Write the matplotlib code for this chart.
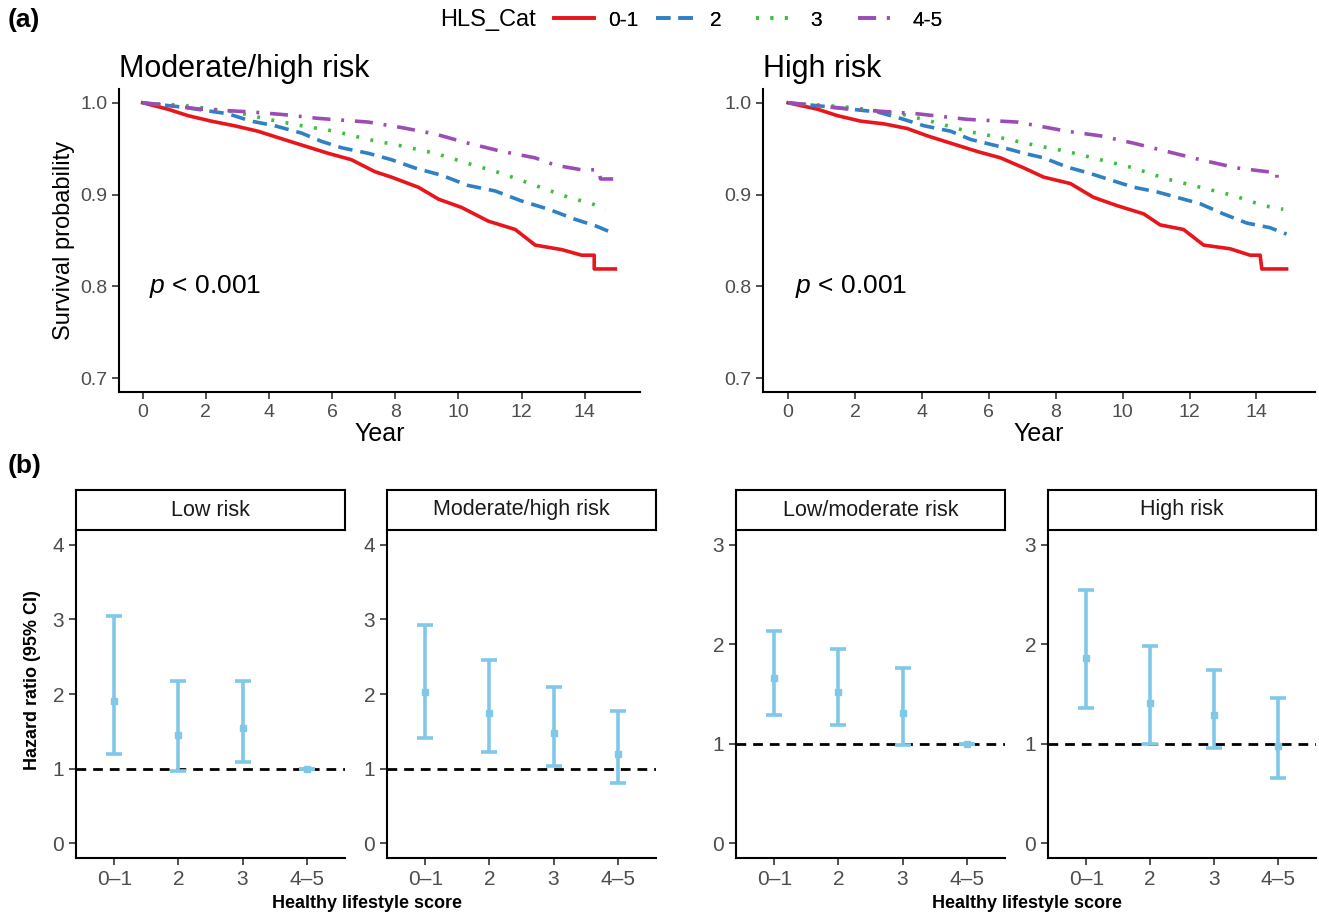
import numpy as np
import matplotlib
matplotlib.use("Agg")
import matplotlib.pyplot as plt
from matplotlib.lines import Line2D

plt.rcParams['font.family'] = ['Liberation Sans', 'DejaVu Sans']
plt.rcParams['mathtext.fontset'] = 'custom'
plt.rcParams['mathtext.rm'] = 'Liberation Sans'
plt.rcParams['mathtext.it'] = 'Liberation Sans:italic'

# ---- survival curves ----
groups = ['0-1', '2', '3', '4-5']
colors = ['#E8161C', '#2F80C4', '#3CBF3C', '#9B4DB5']
styles = ['-', (0, (4, 2.2)), (0, (0.8, 3.2)), (0, (5, 3, 0.8, 3))]

# Moderate/high risk
mh_t = {
    '0-1': [0, 0.8, 1.43, 2.17, 2.9, 3.65, 4.29, 5.03, 5.87, 6.61, 7.35, 7.88, 8.73, 9.37,
            10.1, 10.95, 11.8, 12.43, 13.28, 13.9, 14.3, 14.3, 14.97],
    '2': [0, 1.32, 2.7, 3.44, 4.18, 5.03, 5.66, 6.3, 7.14, 7.88, 8.62, 9.47, 10.3, 11.16,
          12.0, 12.86, 13.7, 14.34, 14.97],
    '3': [0, 1.32, 2.91, 3.97, 5.03, 6.08, 7.14, 8.2, 9.26, 10.3, 11.38, 12.43, 13.49,
          14.23, 14.66],
    '4-5': [0, 1.85, 3.44, 4.5, 5.56, 7.14, 8.2, 9.26, 10.3, 11.38, 12.43, 13.07, 13.9,
            14.44, 14.5, 14.9],
}
mh_s = {
    '0-1': [1.0, 0.993, 0.986, 0.980, 0.975, 0.969, 0.962, 0.954, 0.945, 0.938, 0.925, 0.919,
            0.908, 0.895, 0.886, 0.871, 0.862, 0.845, 0.840, 0.834, 0.834, 0.819, 0.819],
    '2': [1.0, 0.995, 0.988, 0.980, 0.975, 0.967, 0.958, 0.951, 0.945, 0.938, 0.929, 0.921,
          0.910, 0.904, 0.893, 0.884, 0.873, 0.866, 0.857],
    '3': [1.0, 0.997, 0.990, 0.982, 0.975, 0.969, 0.960, 0.953, 0.945, 0.934, 0.923, 0.910,
          0.897, 0.890, 0.884],
    '4-5': [1.0, 0.993, 0.990, 0.987, 0.983, 0.979, 0.973, 0.966, 0.956, 0.947, 0.940, 0.932,
            0.927, 0.927, 0.917, 0.917],
}

# High risk
hr_t = {
    '0-1': [0, 0.88, 1.47, 2.17, 2.87, 3.56, 4.16, 4.86, 5.65, 6.35, 7.05, 7.64, 8.44, 9.13,
            9.83, 10.63, 11.12, 11.82, 12.42, 13.21, 13.81, 14.11, 14.16, 14.9],
    '2': [0, 1.37, 2.67, 3.36, 4.06, 4.86, 5.46, 6.25, 7.05, 7.64, 8.34, 9.03, 9.63, 10.33,
          11.02, 11.62, 12.32, 13.01, 13.71, 14.4, 14.9],
    '3': [0, 1.87, 3.36, 4.36, 5.35, 6.35, 7.34, 8.34, 9.33, 10.33, 11.32, 12.32, 13.31,
          14.21, 14.8],
    '4-5': [0, 1.87, 3.86, 5.35, 6.85, 8.34, 9.33, 10.33, 11.32, 12.32, 13.41, 14.31, 14.6,
            14.62, 14.9],
}
hr_s = {
    '0-1': [1.0, 0.993, 0.986, 0.980, 0.977, 0.972, 0.964, 0.956, 0.947, 0.940, 0.929, 0.919,
            0.912, 0.897, 0.888, 0.879, 0.867, 0.862, 0.845, 0.841, 0.834, 0.834, 0.819, 0.819],
    '2': [1.0, 0.995, 0.990, 0.983, 0.975, 0.969, 0.960, 0.953, 0.945, 0.940, 0.930, 0.923,
          0.916, 0.908, 0.903, 0.897, 0.890, 0.879, 0.869, 0.864, 0.857],
    '3': [1.0, 0.995, 0.988, 0.979, 0.969, 0.962, 0.954, 0.947, 0.938, 0.929, 0.917, 0.908,
          0.899, 0.888, 0.884],
    '4-5': [1.0, 0.993, 0.988, 0.982, 0.979, 0.969, 0.964, 0.956, 0.947, 0.938, 0.929, 0.925,
            0.925, 0.917, 0.917],
}

# ---- hazard ratios ----
hls = ['0–1', '2', '3', '4–5']
low_hr = [1.91, 1.45, 1.54, 1.0]
low_lo = [1.20, 0.97, 1.09, 1.0]
low_hi = [3.05, 2.18, 2.17, 1.0]
modhigh_hr = [2.03, 1.74, 1.48, 1.20]
modhigh_lo = [1.41, 1.22, 1.04, 0.80]
modhigh_hi = [2.92, 2.45, 2.10, 1.77]
lowmod_hr = [1.66, 1.52, 1.31, 1.0]
lowmod_lo = [1.29, 1.19, 0.99, 1.0]
lowmod_hi = [2.13, 1.95, 1.76, 1.0]
high_hr = [1.86, 1.41, 1.29, 0.98]
high_lo = [1.36, 1.00, 0.96, 0.65]
high_hi = [2.55, 1.98, 1.74, 1.46]

W, H = 1319, 915
fig = plt.figure(figsize=(W / 100, H / 100), dpi=100)


def box(x0, y0, x1, y1):
    # pixel box (top-left origin) -> figure fraction rect
    return [x0 / W, 1 - y1 / H, (x1 - x0) / W, (y1 - y0) / H]


grey = '#4D4D4D'


def style_axes(ax, fs):
    for s in ['top', 'right']:
        ax.spines[s].set_visible(False)
    for s in ['left', 'bottom']:
        ax.spines[s].set_linewidth(1.5)
        ax.spines[s].set_color('black')
    ax.tick_params(length=5, width=1.2, color='#333333', labelcolor=grey, labelsize=fs)


def km_panel(rect, title, t_dict, s_dict, ylabel):
    ax = fig.add_axes(rect)
    for g, c, ls in zip(groups, colors, styles):
        ax.plot(t_dict[g], s_dict[g], color=c, linestyle=ls, lw=2.6)
    ax.set_xlim(-0.75, 15.75)
    ax.set_ylim(0.685, 1.015)
    ax.set_xticks(range(0, 15, 2))
    ax.set_yticks([0.7, 0.8, 0.9, 1.0])
    ax.set_yticklabels(['0.7', '0.8', '0.9', '1.0'])
    style_axes(ax, 14)
    ax.set_xlabel('Year', fontsize=18, labelpad=1)
    if ylabel:
        ax.set_ylabel('Survival probability', fontsize=17, labelpad=4)
    ax.set_title(title, loc='left', fontsize=22, pad=9)
    ax.text(0.2, 0.8, r'$p$ < 0.001', fontsize=19, va='center')
    return ax


km_panel(box(119, 89, 640, 392), 'Moderate/high risk', mh_t, mh_s, True)
km_panel(box(763, 89, 1315, 392), 'High risk', hr_t, hr_s, False)

# legend on top: one key per slot, spaced like the original
fig.text(440 / W, 1 - 20 / H, 'HLS_Cat', fontsize=17, va='center', ha='left')
key_x = [554, 656, 756, 858]
for g, c, ls, kx in zip(groups, colors, styles, key_x):
    h = Line2D([], [], color=c, linestyle=ls, lw=2.6)
    leg = fig.legend([h], [g], loc='center left', bbox_to_anchor=(kx / W, 1 - 20 / H),
                     frameon=False, fontsize=15, handlelength=1.9, handletextpad=0.7,
                     borderaxespad=0, borderpad=0)
    fig.add_artist(leg)

fig.text(8 / W, 1 - 20 / H, '(a)', fontsize=19, fontweight='bold', va='center')
fig.text(8 / W, 1 - 466 / H, '(b)', fontsize=19, fontweight='bold', va='center')

# ---- forest panels ----
panels = [
    ((76, 345), 'Low risk', low_hr, low_lo, low_hi, 4),
    ((387, 656), 'Moderate/high risk', modhigh_hr, modhigh_lo, modhigh_hi, 4),
    ((736, 1005), 'Low/moderate risk', lowmod_hr, lowmod_lo, lowmod_hi, 3),
    ((1048, 1316), 'High risk', high_hr, high_lo, high_hi, 3),
]
bar_color = '#80C8E8'
for (x0, x1), name, hr, lo, hi, ymax in panels:
    ax = fig.add_axes(box(x0, 530, x1, 858))
    x = np.arange(1, 5)
    hr = np.array(hr)
    lo = np.array(lo)
    hi = np.array(hi)
    ax.axhline(1, color='black', lw=2, linestyle=(0, (3.5, 2.5)), zorder=1)
    ax.errorbar(x, hr, yerr=[hr - lo, hi - hr], fmt='s', ms=4, color=bar_color,
                ecolor=bar_color, elinewidth=2.6, capsize=6, capthick=2.6, zorder=2)
    pad = 0.05 * ymax
    ax.set_ylim(-pad, ymax + pad)
    ax.set_xlim(0.4, 4.6)
    ax.set_xticks(x)
    ax.set_xticklabels(hls)
    ax.set_yticks(range(0, ymax + 1))
    style_axes(ax, 15)
    # strip
    sx = fig.add_axes(box(x0, 490, x1, 530))
    sx.set_xticks([])
    sx.set_yticks([])
    for s in sx.spines.values():
        s.set_linewidth(1.5)
        s.set_color('black')
    sx.text(0.5, 0.5, name, ha='center', va='center', fontsize=15.5, color='#1A1A1A',
            transform=sx.transAxes)

fig.text(33 / W, 1 - 680 / H, 'Hazard ratio (95% CI)', rotation=90, fontsize=13,
         fontweight='bold', ha='center', va='center')
fig.text(367 / W, 1 - 904 / H, 'Healthy lifestyle score', fontsize=13,
         fontweight='bold', ha='center', va='center')
fig.text(1027 / W, 1 - 904 / H, 'Healthy lifestyle score', fontsize=13,
         fontweight='bold', ha='center', va='center')

fig.savefig('out.png', dpi=100)
